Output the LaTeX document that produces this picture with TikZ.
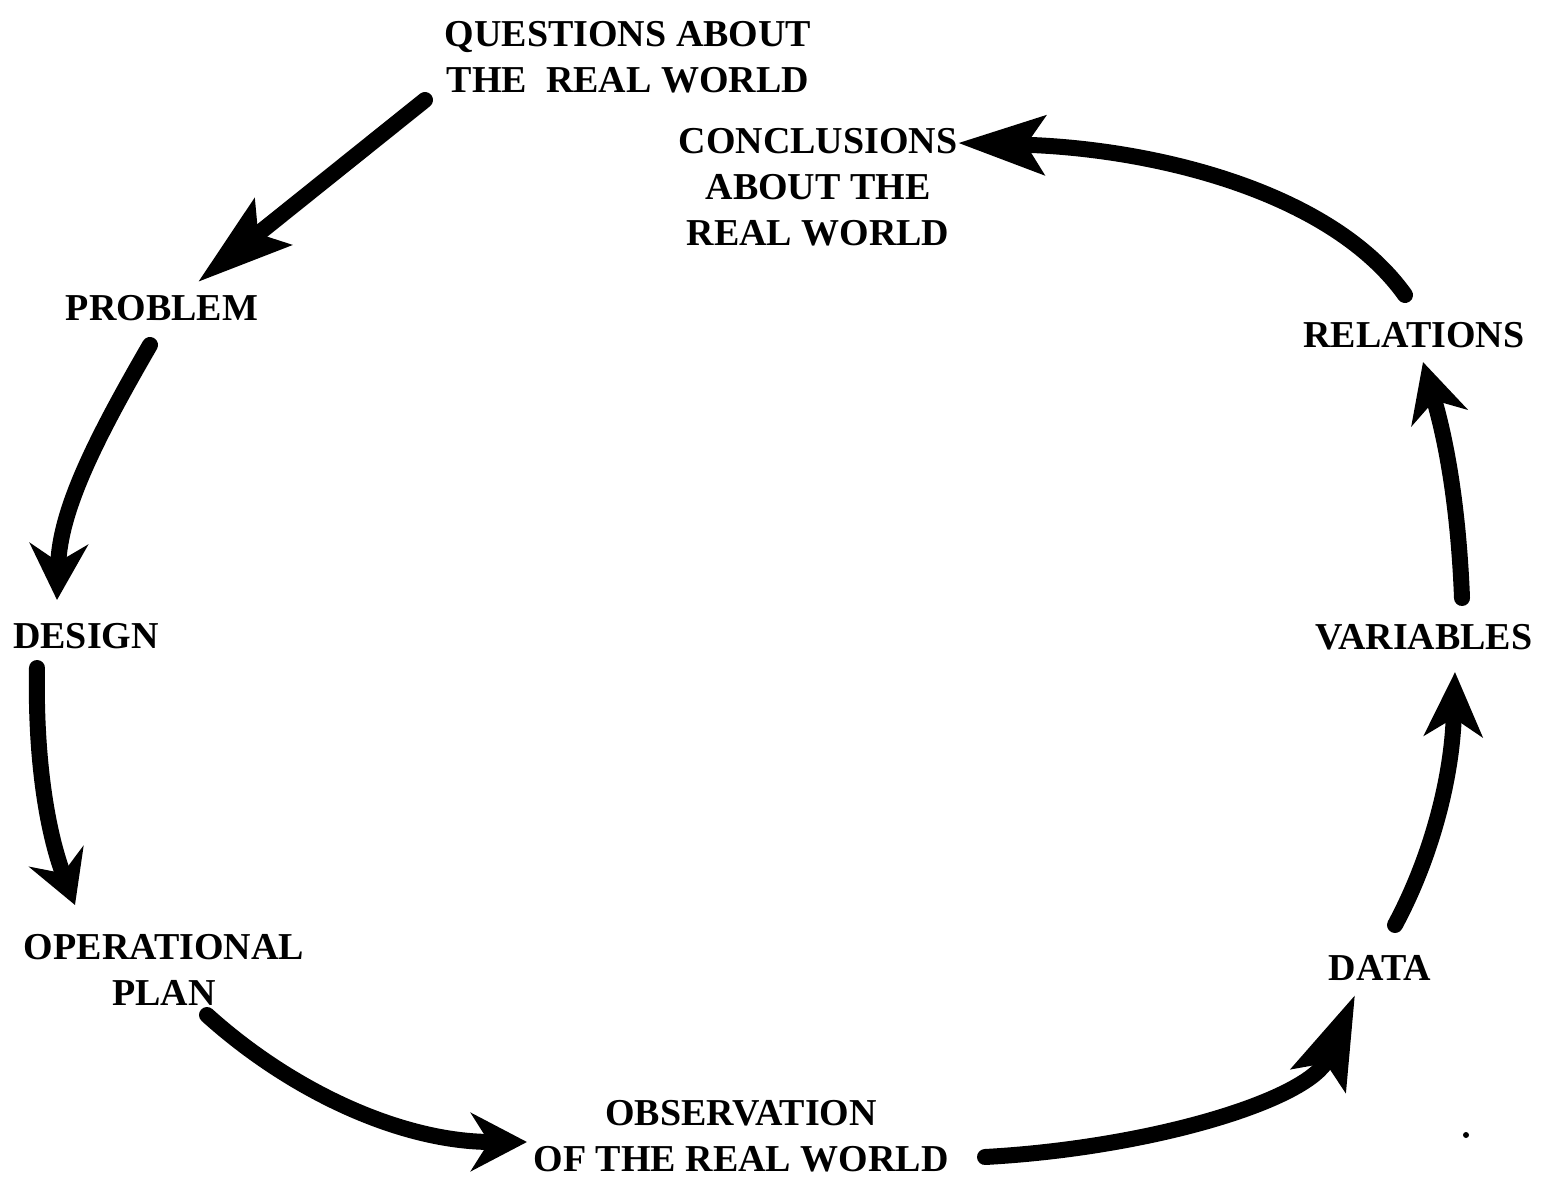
\documentclass[tikz,border=0pt]{standalone}
\usepackage{fontspec}
\setmainfont{Liberation Serif}
\usetikzlibrary{arrows.meta}
\begin{document}
\begin{tikzpicture}[x=1pt,y=-1pt,
  lbl/.style={inner sep=0pt,align=center,font=\fontsize{38}{46}\selectfont\bfseries},
  flow/.style={line width=16pt,line cap=round},
  head/.style={-{Stealth[length=#1,width=58pt,inset=18pt]}},
  head/.default=60pt]
\useasboundingbox (0,0) rectangle (1548,1190);

% stages of the research cycle
\node[lbl] (questions) at (628,57) {QUESTIONS ABOUT\\THE~~REAL WORLD};
\node[lbl] (problem) at (162,308) {PROBLEM};
\node[lbl] (design) at (86,636) {DESIGN};
\node[lbl] (plan) at (164,970) {OPERATIONAL\\PLAN};
\node[lbl] (observation) at (741,1136) {OBSERVATION\\OF THE REAL WORLD};
\node[lbl] (data) at (1380,968) {DATA};
\node[lbl] (variables) at (1424,637) {VARIABLES};
\node[lbl] (relations) at (1414,335) {RELATIONS};
\node[lbl] (conclusions) at (818,187) {CONCLUSIONS\\ABOUT THE\\REAL WORLD};

% end points of the connecting arrows
\coordinate (q-out) at (425,100);
\coordinate (p-in) at (198,282);
\coordinate (p-out) at (150,345);
\coordinate (d-in) at (57,600);
\coordinate (d-out) at (37,668);
\coordinate (o-in) at (75,905);
\coordinate (o-out) at (207,1015);
\coordinate (ob-in) at (527,1142);
\coordinate (ob-out) at (985,1157);
\coordinate (da-in) at (1355,995);
\coordinate (da-out) at (1395,925);
\coordinate (v-in) at (1455,672);
\coordinate (v-out) at (1462,598);
\coordinate (r-in) at (1423,362);
\coordinate (r-out) at (1405,295);
\coordinate (c-in) at (958,143);

\draw[flow,head=95pt] (q-out) -- (p-in);
\draw[flow,head=56pt] (p-out) .. controls (95,440) and (60,510) .. (d-in);
\draw[flow,head=52pt] (d-out) .. controls (35,770) and (50,840) .. (o-in);
\draw[flow,head=56pt] (o-out) .. controls (290,1090) and (400,1142) .. (ob-in);
\draw[flow,head=92pt] (ob-out) .. controls (1150,1148) and (1310,1100) .. (da-in);
\draw[flow,head=64pt] (da-out) .. controls (1430,860) and (1452,780) .. (v-in);
\draw[flow,head=58pt] (v-out) .. controls (1459,520) and (1449,450) .. (r-in);
\draw[flow,head=86pt] (r-out) .. controls (1330,190) and (1150,148) .. (c-in);

% stray dot
\fill (1466,1135) circle (3pt);
\end{tikzpicture}
\end{document}
